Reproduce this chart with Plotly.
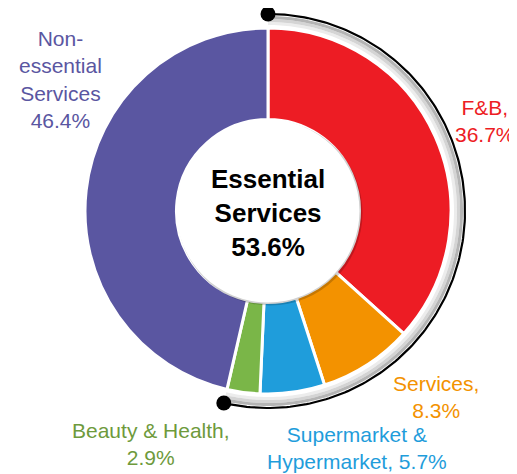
import numpy as np
import plotly.graph_objects as go

# ---- data ----
categories = ["F&B", "Services", "Supermarket & Hypermarket", "Beauty & Health", "Non-essential Services"]
shares = [36.7, 8.3, 5.7, 2.9, 46.4]
essential_flags = [True, True, True, True, False]
slice_colors = ["#ED1C24", "#F39200", "#1F9DDB", "#7AB648", "#5A56A1"]
label_colors = ["#ED1C24", "#F39200", "#1F9DDB", "#6E9A3C", "#5A56A1"]
label_texts = ["F&B,<br>{:.1f}%", "Services,<br>{:.1f}%", "Supermarket &<br>Hypermarket, {:.1f}%",
               "Beauty & Health,<br>{:.1f}%", "Non-<br>essential<br>Services<br>{:.1f}%"]
center_title = "Essential<br>Services"

# ---- layout constants (page pixels) ----
W, H = 517, 474
OFF = 8  # default body margin of the html page
cx, cy, R = 268, 211, 183
hole = 0.5
label_pos = [(485, 121), (436, 397), (357, 448), (151, 444), (60, 79)]

FW, FH = W - OFF, H - OFF

essential_total = sum(v for v, e in zip(shares, essential_flags) if e)
total = sum(shares)
end_angle = essential_total / total * 2 * np.pi

fig = go.Figure()

# shadow band around essential slices (gradient rings)
bands = [(186, 189, "#ececec"), (189, 192, "#d4d4d4"), (192, 195, "#b4b4b4")]
t = np.linspace(0, end_angle, 200)
for r0, r1, col in bands:
    xs = np.concatenate([cx + r1 * np.sin(t), cx + r0 * np.sin(t[::-1])])
    ys = np.concatenate([cy - r1 * np.cos(t), cy - r0 * np.cos(t[::-1])])
    fig.add_trace(go.Scatter(x=xs, y=ys, fill="toself", fillcolor=col, mode="none",
                             hoverinfo="skip", showlegend=False))

# black bracket arc with end dots
ra = 197
fig.add_trace(go.Scatter(x=cx + ra * np.sin(t), y=cy - ra * np.cos(t), mode="lines",
                         line=dict(color="black", width=2.2), hoverinfo="skip", showlegend=False))
fig.add_trace(go.Scatter(x=[cx + ra * np.sin(0), cx + ra * np.sin(end_angle)],
                         y=[cy - ra * np.cos(0), cy - ra * np.cos(end_angle)],
                         mode="markers", marker=dict(color="black", size=15),
                         hoverinfo="skip", showlegend=False))

# donut
fig.add_trace(go.Pie(
    labels=categories, values=shares, sort=False, direction="clockwise", rotation=0,
    marker=dict(colors=slice_colors, line=dict(color="white", width=3)),
    textinfo="none", hole=hole, showlegend=False,
    domain=dict(x=[(cx - R - OFF) / FW, (cx + R - OFF) / FW],
                y=[(H - cy - R) / FH, (H - cy + R) / FH]),
))

# center disc with soft shadow
rh = R * hole
fig.add_shape(type="circle", xref="x", yref="y", x0=cx - rh + 1, x1=cx + rh + 3,
              y0=cy - rh + 1, y1=cy + rh + 3, fillcolor="rgba(0,0,0,0.18)", line_width=0, layer="above")
fig.add_shape(type="circle", xref="x", yref="y", x0=cx - rh, x1=cx + rh,
              y0=cy - rh, y1=cy + rh, fillcolor="white", line_width=0, layer="above")

FONT = "Liberation Sans, Arial, sans-serif"
for txt, v, col, (lx, ly) in zip(label_texts, shares, label_colors, label_pos):
    fig.add_annotation(x=lx, y=ly, xref="x", yref="y", text=txt.format(v), showarrow=False,
                       font=dict(family=FONT, size=21, color=col), align="center",
                       xanchor="center", yanchor="middle")

fig.add_annotation(x=cx, y=cy + 2, xref="x", yref="y",
                   text="<b>{}<br>{:.1f}%</b>".format(center_title, essential_total),
                   showarrow=False, font=dict(family=FONT, size=26, color="black"),
                   align="center", xanchor="center", yanchor="middle")

fig.update_layout(
    width=FW, height=FH, margin=dict(l=0, r=0, t=0, b=0),
    paper_bgcolor="white", plot_bgcolor="white",
    xaxis=dict(range=[OFF, W], visible=False, fixedrange=True),
    yaxis=dict(range=[H, OFF], visible=False, fixedrange=True),
)

fig.write_html("out.html")
